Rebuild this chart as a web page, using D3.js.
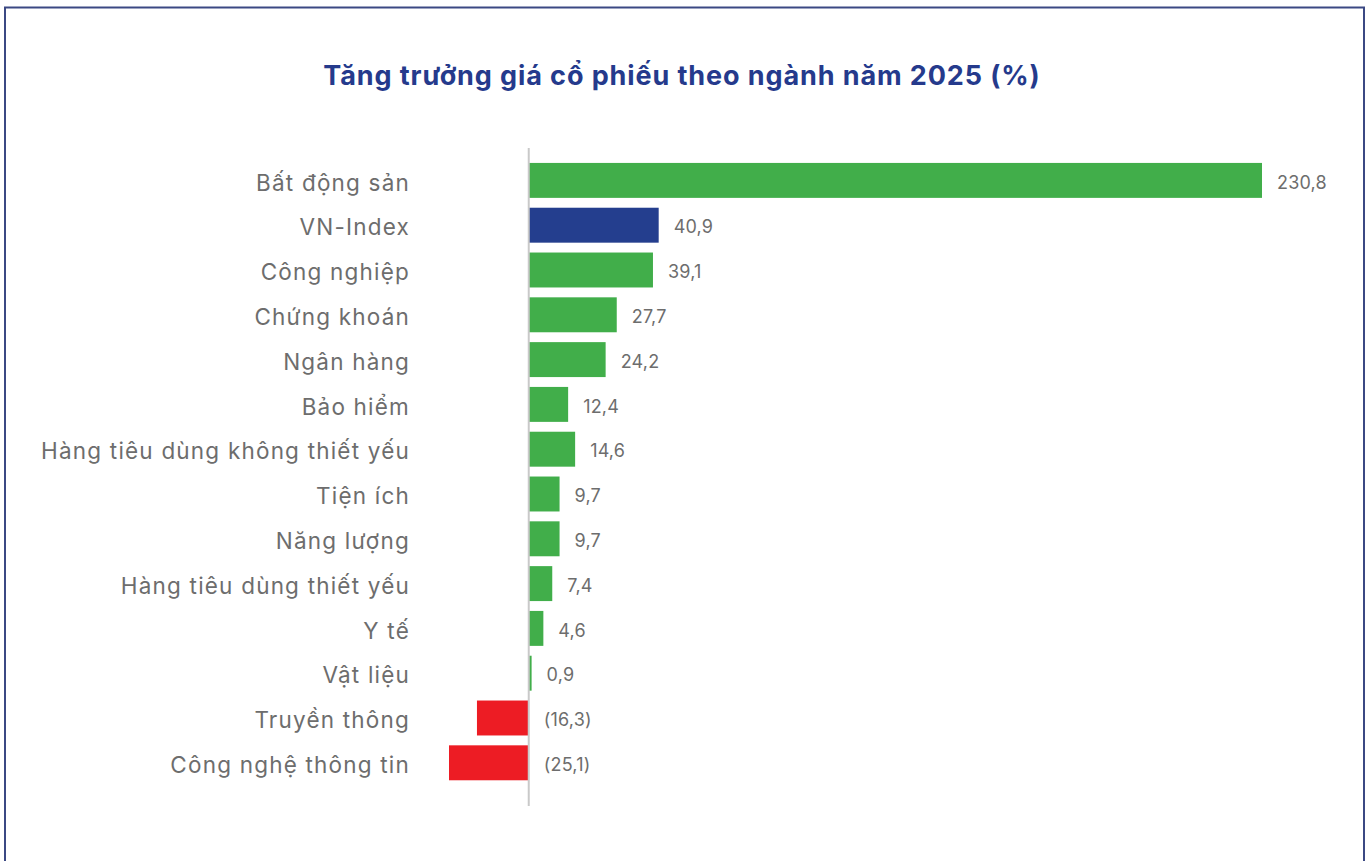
<!DOCTYPE html>
<html>
<head>
<meta charset="utf-8">
<script src="https://cdn.jsdelivr.net/npm/d3@7"></script>
<style>
  html, body { margin: 0; padding: 0; background: #fff; }
  svg { display: block; }
</style>
</head>
<body>
<svg id="chart" width="1368" height="861"></svg>
<script>
const categories = [
  'Bất động sản', 'VN-Index', 'Công nghiệp', 'Chứng khoán', 'Ngân hàng',
  'Bảo hiểm', 'Hàng tiêu dùng không thiết yếu', 'Tiện ích', 'Năng lượng',
  'Hàng tiêu dùng thiết yếu', 'Y tế', 'Vật liệu', 'Truyền thông', 'Công nghệ thông tin'
]
const values = [230.8, 40.9, 39.1, 27.7, 24.2, 12.4, 14.6, 9.7, 9.7, 7.4, 4.6, 0.9, -16.3, -25.1]
const valueLabels = ['230,8', '40,9', '39,1', '27,7', '24,2', '12,4', '14,6', '9,7', '9,7', '7,4', '4,6', '0,9', '(16,3)', '(25,1)']
const title = 'Tăng trưởng giá cổ phiếu theo ngành năm 2025 (%)'

const colors = { pos: '#41ae4a', index: '#243e8e', neg: '#ed1c24' }
const font = 'Inter, "Noto Sans", sans-serif'

const svg = d3.select('#chart')
const H = 861

// outer frame
svg.append('rect')
  .attr('x', 5).attr('y', 7.5)
  .attr('width', 1359).attr('height', H + 20)
  .attr('fill', 'none')
  .attr('stroke', '#3b4883')
  .attr('stroke-width', 2)

svg.append('text')
  .attr('x', 682).attr('y', 85)
  .attr('text-anchor', 'middle')
  .style('font-family', font)
  .style('font-weight', 700)
  .style('font-size', '27px')
  .style('letter-spacing', '0.9px')
  .style('fill', '#253a8c')
  .text(title)

const x = d3.scaleLinear()
  .domain([-25.1, 230.8])
  .range([449, 1262])

const y = d3.scaleBand()
  .domain(categories)
  .range([158, 158 + categories.length * 44.8])
  .paddingInner(0.22)
  .paddingOuter(0.11)

const rows = categories.map((c, i) => ({ cat: c, v: values[i], lab: valueLabels[i] }))

// bars
svg.append('g').selectAll('rect')
  .data(rows)
  .join('rect')
  .attr('x', d => Math.min(x(0), x(d.v)))
  .attr('y', d => y(d.cat))
  .attr('width', d => Math.abs(x(d.v) - x(0)))
  .attr('height', y.bandwidth())
  .attr('fill', d => d.cat === 'VN-Index' ? colors.index : (d.v < 0 ? colors.neg : colors.pos))

// zero axis
svg.append('line')
  .attr('x1', x(0)).attr('x2', x(0))
  .attr('y1', 148).attr('y2', 806)
  .attr('stroke', '#c9c9c9')
  .attr('stroke-width', 2)

// category labels
svg.append('g').selectAll('text')
  .data(rows)
  .join('text')
  .attr('x', 410)
  .attr('y', d => y(d.cat) + y.bandwidth() / 2)
  .attr('dy', '0.45em')
  .attr('text-anchor', 'end')
  .style('font-family', font)
  .style('font-size', '22.5px')
  .style('letter-spacing', '1.2px')
  .style('fill', '#6d6d6d')
  .text(d => d.cat)

// value labels
svg.append('g').selectAll('text')
  .data(rows)
  .join('text')
  .attr('x', d => Math.max(x(0), x(d.v)) + 15)
  .attr('y', d => y(d.cat) + y.bandwidth() / 2)
  .attr('dy', '0.45em')
  .style('font-family', font)
  .style('font-size', '18px')
  .style('letter-spacing', '0.2px')
  .style('fill', '#6d6d6d')
  .text(d => d.lab)
</script>
</body>
</html>
